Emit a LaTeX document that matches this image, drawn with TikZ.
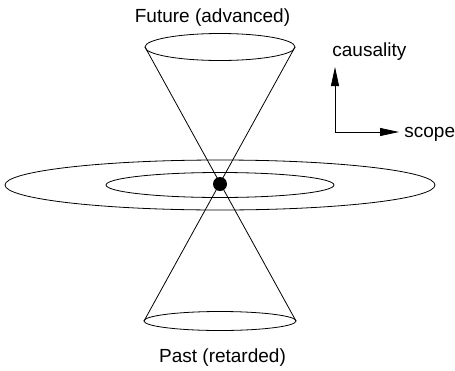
\documentclass[tikz,border=0pt]{standalone}
\usepackage{fontspec}
\setmainfont{Liberation Sans}
\usepackage{tikz}
\usetikzlibrary{arrows.meta}
\tikzset{
    event/.style={circle, fill=black, inner sep=0pt, minimum size=14pt},
    conelabel/.style={font=\fontsize{19}{21}\selectfont, inner sep=0pt},
    axis/.style={-{Triangle[length=19pt, width=8pt]}}
}

\begin{document}
\begin{tikzpicture}[x=1pt, y=-1pt, line width=0.8pt]
            \useasboundingbox (0,0) rectangle (455,370);

            % 1. Planes of simultaneity
            \draw (220,185) ellipse [x radius=215pt, y radius=25pt];
            \draw (220,185) ellipse [x radius=114pt, y radius=12.5pt];

            % 2. Future and past cones
            \coordinate (futL) at (145,47);
            \coordinate (futR) at (295,47);
            \coordinate (pastL) at (144,321);
            \coordinate (pastR) at (296,321);
            \draw (220,47) ellipse [x radius=75pt, y radius=13.5pt];
            \draw (220,321) ellipse [x radius=76pt, y radius=9.5pt];
            \draw (futL) -- (pastR);
            \draw (futR) -- (pastL);

            % 3. The event
            \node[event] (here) at (220,184) {};
            \node[conelabel, anchor=base] (future) at (212.5,22) {Future (advanced)};
            \node[conelabel, anchor=base] (past) at (222.5,362) {Past (retarded)};

            % 4. Axes
            \coordinate (origin) at (335,132);
            \coordinate (up) at (335,67);
            \coordinate (right) at (399,132);
            \draw[axis] (origin) -- (up);
            \draw[axis] (origin) -- (right);
            \node[conelabel, anchor=base west] (causality) at (332,56) {causality};
            \node[conelabel, anchor=base west] (scope) at (404,137) {scope};
        \end{tikzpicture}
\end{document}
